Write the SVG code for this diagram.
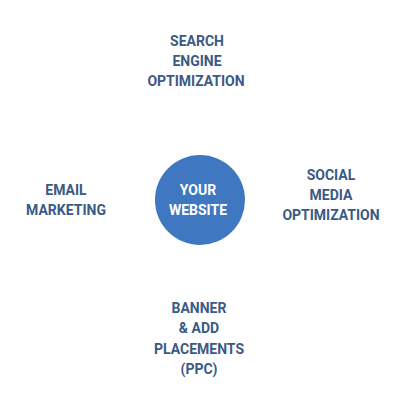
<svg xmlns="http://www.w3.org/2000/svg" width="400" height="400" viewBox="0 0 400 400">
<style>
.t{font-family:Roboto,"Liberation Sans",sans-serif;font-weight:bold;font-size:14px;fill:#3a5a85;text-anchor:middle}
.w{fill:#ffffff}
</style>
<rect width="400" height="400" fill="#ffffff"/>
<g id="connectors"></g>
<g id="center">
<circle cx="200" cy="200" r="45" fill="#3f77c0"/>
<text class="t w" x="198" y="195">YOUR</text>
<text class="t w" x="198" y="215">WEBSITE</text>
</g>
<g id="seo">
<text class="t" x="197" y="46">SEARCH</text>
<text class="t" x="197" y="66">ENGINE</text>
<text class="t" x="196" y="86">OPTIMIZATION</text>
</g>
<g id="smo">
<text class="t" x="331" y="180">SOCIAL</text>
<text class="t" x="331" y="200">MEDIA</text>
<text class="t" x="331" y="220">OPTIMIZATION</text>
</g>
<g id="email">
<text class="t" x="66" y="195">EMAIL</text>
<text class="t" x="66" y="215">MARKETING</text>
</g>
<g id="ppc">
<text class="t" x="199" y="313">BANNER</text>
<text class="t" x="199" y="333">&amp; ADD</text>
<text class="t" x="199" y="354">PLACEMENTS</text>
<text class="t" x="199" y="374">(PPC)</text>
</g>
</svg>
